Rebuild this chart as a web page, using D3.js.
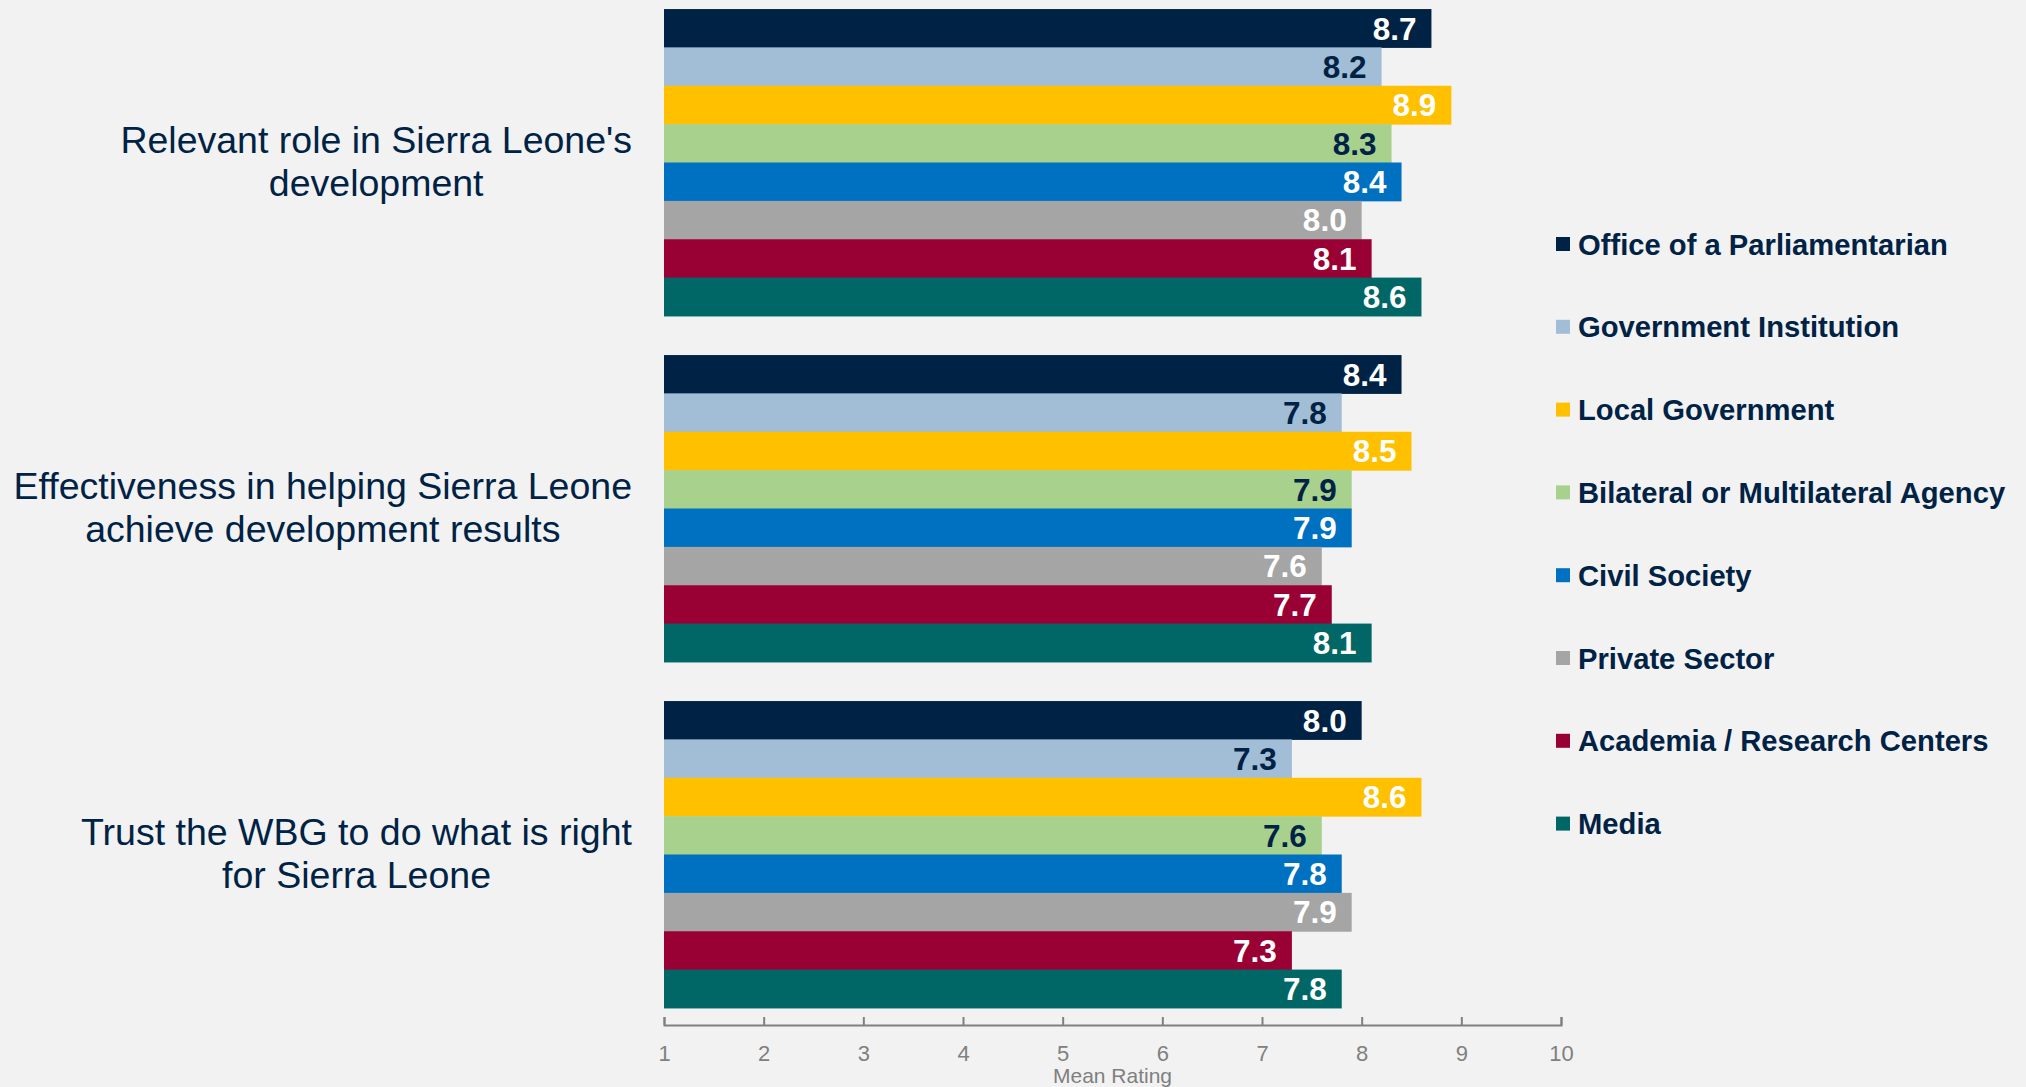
<!DOCTYPE html>
<html>
<head>
<meta charset="utf-8">
<script src="https://cdn.jsdelivr.net/npm/d3@7"></script>
<style>
  body { margin: 0; background: #f2f2f2; }
  svg { display: block; }
</style>
</head>
<body>
<svg></svg>
<script>
var width = 2026;
var height = 1087;

var questions = [
    ["Relevant role in Sierra Leone's", "development"],
    ["Effectiveness in helping Sierra Leone", "achieve development results"],
    ["Trust the WBG to do what is right", "for Sierra Leone"]
];
var groups = ["Office of a Parliamentarian", "Government Institution", "Local Government",
    "Bilateral or Multilateral Agency", "Civil Society", "Private Sector",
    "Academia / Research Centers", "Media"];
var relevant = [8.7, 8.2, 8.9, 8.3, 8.4, 8.0, 8.1, 8.6];
var effective = [8.4, 7.8, 8.5, 7.9, 7.9, 7.6, 7.7, 8.1];
var trust = [8.0, 7.3, 8.6, 7.6, 7.8, 7.9, 7.3, 7.8];
var ticks = [1, 2, 3, 4, 5, 6, 7, 8, 9, 10];

var color = ["#002245", "#a2bdd6", "#ffc000", "#a9d18e", "#0070c0", "#a5a5a5", "#990033", "#006666"];
var labelColor = ["#fff", "#002245", "#fff", "#002245", "#fff", "#fff", "#fff", "#fff"];
var textDark = "#002245";

var series = [relevant, effective, trust];

const svg = d3.select('svg')
    .attr('width', width)
    .attr('height', height);

var x = d3.scaleLinear().domain([1, 10]).range([664, 1561]);
var y0 = d3.scaleBand()
    .domain(d3.range(questions.length))
    .range([-10.5, 1027.5])
    .paddingInner(0.113)
    .paddingOuter(0.0565);
var y1 = d3.scaleBand()
    .domain(d3.range(groups.length))
    .range([0, y0.bandwidth()]);

// bars
const grp = svg.selectAll("g.q")
    .data(series)
    .join("g")
    .attr("class", "q")
    .attr("transform", (d, i) => `translate(0,${y0(i)})`);

grp.selectAll("rect")
    .data(d => d)
    .join("rect")
    .attr("x", x(1))
    .attr("y", (d, i) => y1(i))
    .attr("width", d => x(d) - x(1))
    .attr("height", y1.bandwidth() + 0.5)
    .attr("fill", (d, i) => color[i]);

grp.selectAll("text")
    .data(d => d)
    .join("text")
    .attr("x", d => x(d) - 15)
    .attr("y", (d, i) => y1(i) + y1.bandwidth() / 2)
    .attr("dy", "0.36em")
    .attr("text-anchor", "end")
    .attr("font-family", "Liberation Sans, Arial, sans-serif")
    .attr("font-weight", "bold")
    .attr("font-size", 31.5)
    .attr("fill", (d, i) => labelColor[i])
    .text(d => d.toFixed(1));

// question labels, centred lines with the block ending at the right edge
const qLabel = svg.selectAll("text.qlabel")
    .data(questions)
    .join("text")
    .attr("class", "qlabel")
    .attr("font-family", "Liberation Sans, Arial, sans-serif")
    .attr("font-size", 37.5)
    .attr("fill", textDark)
    .attr("text-anchor", "middle");

qLabel.each(function(d, i) {
    var t = d3.select(this);
    var cy = y0(i) + y0.bandwidth() / 2 - 2;
    var spans = t.selectAll("tspan")
        .data(d)
        .join("tspan")
        .attr("y", (s, j) => cy + (j - (d.length - 1) / 2) * 43)
        .attr("dy", "0.36em")
        .text(s => s);
    var maxW = 0;
    spans.each(function() { maxW = Math.max(maxW, this.getComputedTextLength()); });
    spans.attr("x", 632 - maxW / 2);
});

// axis
const axis = svg.append("g")
    .attr("transform", "translate(0,1025)")
    .call(d3.axisBottom(x).tickValues(ticks).tickFormat(d3.format("d"))
        .tickSizeInner(-8).tickSizeOuter(-8).tickPadding(20));
axis.select(".domain").attr("stroke", "#808080").attr("stroke-width", 2);
axis.selectAll(".tick line").attr("stroke", "#808080").attr("stroke-width", 2);
axis.selectAll(".tick text")
    .attr("fill", "#808080")
    .attr("font-family", "Liberation Sans, Arial, sans-serif")
    .attr("font-size", 22);

svg.append("text")
    .attr("x", (x(1) + x(10)) / 2)
    .attr("y", 1083)
    .attr("text-anchor", "middle")
    .attr("font-family", "Liberation Sans, Arial, sans-serif")
    .attr("font-size", 21)
    .attr("fill", "#808080")
    .text("Mean Rating");

// legend
const legend = svg.selectAll("g.legend")
    .data(groups)
    .join("g")
    .attr("class", "legend")
    .attr("transform", (d, i) => `translate(1556,${244 + i * 82.8})`);
legend.append("rect")
    .attr("x", 0)
    .attr("y", -7)
    .attr("width", 14)
    .attr("height", 14)
    .attr("fill", (d, i) => color[i]);
legend.append("text")
    .attr("x", 22)
    .attr("dy", "0.36em")
    .attr("font-family", "Liberation Sans, Arial, sans-serif")
    .attr("font-weight", "bold")
    .attr("font-size", 29.2)
    .attr("fill", textDark)
    .text(d => d);
</script>
</body>
</html>
